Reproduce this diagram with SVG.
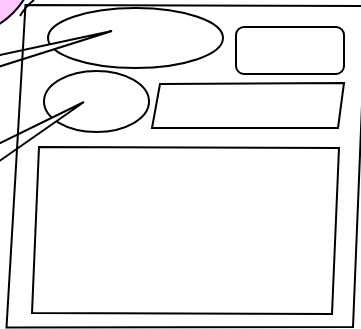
<svg xmlns="http://www.w3.org/2000/svg" width="361" height="329" viewBox="0 0 361 329">
<style>
.s{fill:#fff;stroke:#000;stroke-width:2;stroke-linejoin:miter}
.n{fill:none;stroke:#000;stroke-width:2}
</style>
<rect width="361" height="329" fill="#fff"/>
<g id="ellipse-top"><ellipse class="s" cx="135.5" cy="38" rx="87.5" ry="30"/></g>
<g id="ellipse-small"><ellipse class="s" cx="96.5" cy="101.5" rx="52.5" ry="30.5"/></g>
<g id="rounded-box"><rect class="s" x="236" y="27" width="108" height="47" rx="8"/></g>
<g id="parallelogram"><polygon class="s" points="160,84 344,83 338,128 152,128"/></g>
<g id="inner-box"><polygon class="s" points="39,147 339,148 332,314 32,313"/></g>
<g id="callout">
<circle cx="-40" cy="-40" r="75" fill="#fcc8fc" stroke="#000" stroke-width="2"/>
<path class="n" d="M20,16 Q26,6 34,0"/>
</g>
<g id="connectors">
<polygon class="s" points="-2,55.5 112,31 -2,67"/>
<polygon class="s" points="-2,144 84,102 -2,162"/>
</g>
<g id="frame"><polygon class="n" points="25.5,5 366,6 353,327 6.5,327.5"/></g>
</svg>
